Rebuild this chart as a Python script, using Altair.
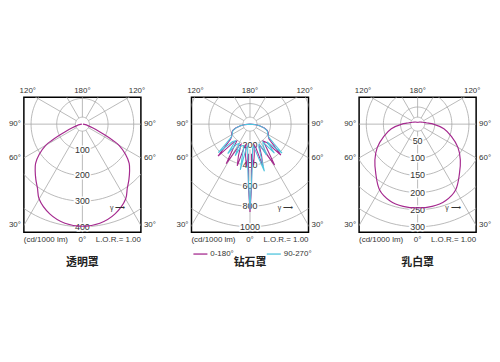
import altair as alt
import numpy as np
import pandas as pd

# ---------------- data ----------------
# clear cover (透明罩): gamma (deg) -> cd/1000 lm, symmetric
clear_gamma = [0, 10, 20, 30, 35, 40, 45, 50, 55, 60, 62, 64, 66, 70, 75, 80, 90]
clear_cd = [398, 392, 372, 337, 305, 282, 260, 238, 205, 165, 135, 103, 75, 42, 22, 12, 2]

# diamond cover (钻石罩): signed gamma (left negative)
dia_a_gamma = [-90, -85, -80, -75, -70, -65, -60, -56, -52, -48, -45, -42, -38, -35, -31, -27,
               -24, -20, -17, -14, -11, -8, -5, -3, -1.5, 0, 1.5, 3, 5, 8, 11, 14, 17, 20, 24,
               27, 31, 35, 38, 42, 45, 48, 52, 56, 60, 65, 70, 75, 80, 85, 90]
dia_a_cd = [0, 50, 100, 145, 180, 195, 205, 215, 240, 330, 440, 230, 210, 280, 450, 240,
            215, 330, 425, 230, 205, 310, 410, 290, 600, 855, 600, 290, 400, 300, 205, 240, 430, 330, 215,
            270, 465, 280, 210, 240, 425, 320, 235, 215, 205, 195, 180, 145, 100, 50, 0]
dia_b_gamma = [-90, -85, -80, -75, -70, -65, -60, -55, -51, -48, -45, -41, -37, -34, -29, -25,
               -22, -16, -12, -9, -6, -3, -1.5, 0, 1.5, 3, 6, 9, 13, 17, 21, 25, 28, 32, 36,
               40, 44, 48, 51, 55, 60, 65, 70, 75, 80, 85, 90]
dia_b_cd = [0, 45, 95, 140, 175, 190, 200, 225, 300, 415, 240, 215, 360, 240, 215, 340,
            230, 215, 455, 240, 215, 420, 560, 830, 560, 420, 240, 215, 300, 480, 240, 215, 340, 240, 215,
            370, 240, 420, 300, 225, 200, 190, 175, 140, 95, 45, 0]

# milky cover (乳白罩): gamma (deg) -> cd/1000 lm, symmetric
milk_gamma = [0, 10, 20, 30, 40, 50, 60, 70, 80, 90, 95, 100, 110, 120, 140, 160, 180]
milk_cd = [245, 244, 238, 222, 190, 163, 136, 105, 78, 46, 32, 24, 16, 12, 8, 6, 5]

clear_rings = [100, 200, 300, 400]
dia_rings = [200, 400, 600, 800, 1000]
milk_rings = [50, 100, 150, 200, 250, 300]

grid_angles = [0, 30, 60, 90, 120, 150, 180, 210, 240, 270, 300, 330]
side_angles = [30, 60, 90]
top_angles = [120]
titles = ["透明罩", "钻石罩", "乳白罩"]
bottom_texts = ["(cd/1000 lm)", "0°", "L.O.R.= 1.00"]
series_names = ["0-180°", "90-270°"]

# ---------------- styling / layout ----------------
W, H = 118, 136
XM, YT, YB = 0.57, 0.261, -1.053
INNER = 0.068
MAG = "#a52a8f"
CYAN = "#4fc4dd"
GRID = "#a8a8a8"
TXT = "#333333"
FONT = "Liberation Sans"
CJK = "Noto Sans CJK SC"

X = alt.X("x:Q", scale=alt.Scale(domain=[-XM, XM], nice=False, zero=False), axis=None)
Y = alt.Y("y:Q", scale=alt.Scale(domain=[YB, YT], nice=False, zero=False), axis=None)


def polar(ch, rmax):
    return ch.transform_calculate(
        x=f"datum.cd / {rmax} * sin(datum.g * PI / 180)",
        y=f"-datum.cd / {rmax} * cos(datum.g * PI / 180)",
    )


def mirror(g, v):
    sg = [-a for a in reversed(g[1:])] + list(g)
    sv = list(reversed(v[1:])) + list(v)
    return pd.DataFrame({"g": sg, "cd": sv})


def txt(df, align="center", dx=0, dy=0, size=8, font=FONT, color=TXT, weight="normal"):
    return alt.Chart(df).mark_text(
        align=align, baseline="middle", dx=dx, dy=dy, fontSize=size, font=font,
        color=color, fontWeight=weight, clip=False
    ).encode(x=X, y=Y, text="t:N")


def panel(curves, rings, rmax, title):
    ring_df = pd.DataFrame([(r, a) for r in [INNER * rmax] + rings for a in range(0, 361, 3)],
                           columns=["cd", "g"])
    ring_layer = polar(alt.Chart(ring_df), rmax).mark_line(
        clip=True, color=GRID, strokeWidth=0.8).encode(x=X, y=Y, detail="cd:N", order="g:Q")
    spoke_df = pd.DataFrame([(a, r) for a in grid_angles for r in (INNER * rmax, 2 * rmax)],
                            columns=["g", "cd"])
    spoke_layer = polar(alt.Chart(spoke_df), rmax).mark_line(
        clip=True, color=GRID, strokeWidth=0.8).encode(x=X, y=Y, detail="g:N", order="cd:Q")

    lab_df = pd.DataFrame({"cd": rings, "g": 0})
    lab = polar(alt.Chart(lab_df), rmax)
    halo = lab.mark_text(font=FONT, fontSize=9, color="white", stroke="white", strokeWidth=3,
                         baseline="middle").encode(x=X, y=Y, text="cd:N")
    labt = lab.mark_text(font=FONT, fontSize=9, color=TXT, baseline="middle").encode(
        x=X, y=Y, text="cd:N")

    # angle labels along the frame
    sa = np.radians(side_angles)
    side_y = -XM * np.cos(sa) / np.sin(sa)
    side_t = [f"{a}°" for a in side_angles]
    left_side = pd.DataFrame({"x": -XM, "y": side_y, "t": side_t})
    right_side = pd.DataFrame({"x": XM, "y": side_y, "t": side_t})
    ta = np.radians(top_angles)
    top_x = YT * np.sin(ta) / (-np.cos(ta))
    top_t = [f"{a}°" for a in top_angles]
    top_left = pd.DataFrame({"x": -top_x, "y": YT, "t": top_t})
    top_right = pd.DataFrame({"x": top_x, "y": YT, "t": top_t})
    top_mid = pd.DataFrame({"x": [0.0], "y": [YT], "t": ["180°"]})

    bl = pd.DataFrame({"x": [-XM], "y": [YB], "t": [bottom_texts[0]]})
    bm = pd.DataFrame({"x": [0.0], "y": [YB], "t": [bottom_texts[1]]})
    br = pd.DataFrame({"x": [XM], "y": [YB], "t": [bottom_texts[2]]})
    gam = pd.DataFrame({"x": [0.27], "y": [-0.82], "t": ["γ ⟶"]})
    ttl = pd.DataFrame({"x": [0.0], "y": [YB], "t": [title]})

    layers = [ring_layer, spoke_layer, halo, labt] + curves + [
        txt(left_side, "right", dx=-3),
        txt(right_side, "left", dx=3),
        txt(top_left, "right", dy=-6),
        txt(top_right, "left", dy=-6),
        txt(top_mid, "center", dy=-6),
        txt(bl, "left", dy=8),
        txt(bm, "center", dy=8),
        txt(br, "right", dy=8),
        txt(gam, "left", size=7),
        txt(ttl, "center", dy=31, size=11, font=CJK, color="#222222", weight="bold"),
    ]
    return alt.layer(*layers).properties(width=W, height=H)


clear_curve = polar(alt.Chart(mirror(clear_gamma, clear_cd).reset_index()), 400).mark_line(
    clip=True, color=MAG, strokeWidth=1.2, interpolate="catmull-rom").encode(x=X, y=Y, order="index:Q")
milk_curve = polar(alt.Chart(mirror(milk_gamma, milk_cd).reset_index()), 300).mark_line(
    clip=True, color=MAG, strokeWidth=1.2, interpolate="catmull-rom").encode(x=X, y=Y, order="index:Q")

dia_df = pd.concat([
    pd.DataFrame({"g": dia_a_gamma, "cd": dia_a_cd, "s": series_names[0]}),
    pd.DataFrame({"g": dia_b_gamma, "cd": dia_b_cd, "s": series_names[1]}),
]).reset_index(drop=True).reset_index()
dia_curve = polar(alt.Chart(dia_df), 1000).mark_line(clip=True, strokeWidth=1.1).encode(
    x=X, y=Y, order="index:Q",
    color=alt.Color("s:N", scale=alt.Scale(domain=series_names, range=[MAG, CYAN]),
                    legend=alt.Legend(orient="none", legendX=1, legendY=150, direction="horizontal",
                                      title=None, symbolType="stroke", symbolSize=200,
                                      symbolStrokeWidth=1.3, labelFontSize=8, labelFont=FONT,
                                      labelColor=TXT, columnPadding=30, labelOffset=2)),
)

p1 = panel([clear_curve], clear_rings, 400, titles[0])
p2 = panel([dia_curve], dia_rings, 1000, titles[1])
p3 = panel([milk_curve], milk_rings, 300, titles[2])

chart = alt.hconcat(p1, p2, p3, spacing=51, bounds="flush").resolve_scale(
    color="independent"
).resolve_legend(color="independent").properties(
    padding={"left": 0, "top": 78, "right": 0, "bottom": 0}, background="white"
).configure_view(stroke="black", strokeWidth=1.5)

chart.save("out.html", embed_options={"renderer": "svg", "actions": False})
